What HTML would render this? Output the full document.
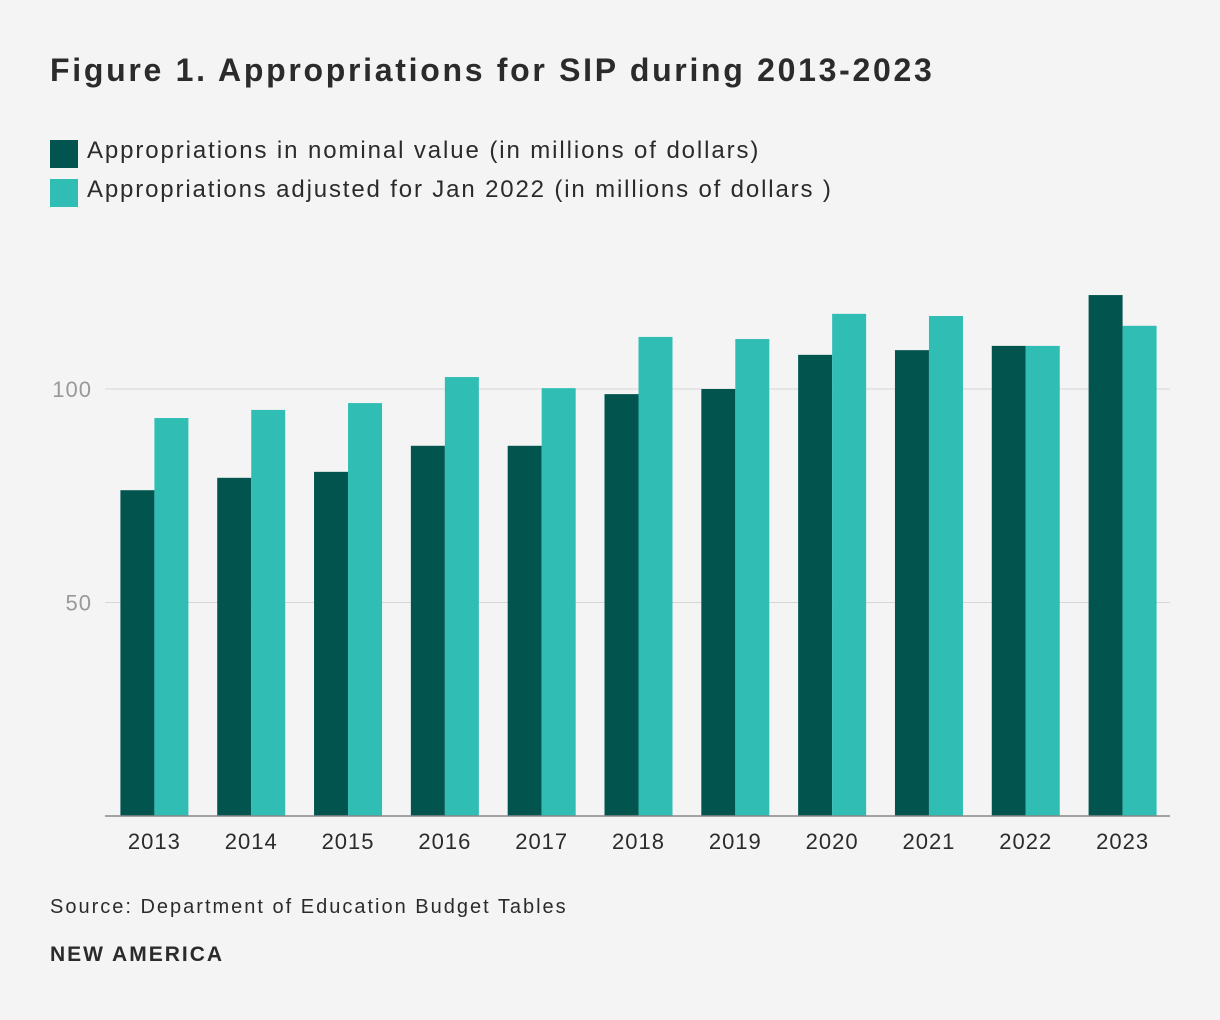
<!DOCTYPE html>
<html><head><meta charset="utf-8"><style>
body{margin:0;width:1220px;height:1020px;background:#f4f4f4;font-family:"Liberation Sans",sans-serif;color:#2b2b2b;position:relative;overflow:hidden}
.t{position:absolute;white-space:nowrap}
.sq{position:absolute;width:28px;height:28px}
</style></head><body>
<div class="t" style="left:50px;top:52px;font-size:32px;font-weight:bold;letter-spacing:2.7px">Figure 1. Appropriations for SIP during 2013-2023</div>
<div class="sq" style="left:50px;top:140px;background:#02544f"></div>
<div class="t" style="left:87px;top:137px;font-size:24px;letter-spacing:1.9px">Appropriations in nominal value (in millions of dollars)</div>
<div class="sq" style="left:50px;top:179px;background:#30bdb3"></div>
<div class="t" style="left:87px;top:176px;font-size:24px;letter-spacing:1.85px">Appropriations adjusted for Jan 2022 (in millions of dollars )</div>
<svg id="chart" width="1220" height="1020" style="position:absolute;left:0;top:0"></svg>
<div class="t" style="left:50px;top:896px;font-size:20px;letter-spacing:2px">Source: Department of Education Budget Tables</div>
<div class="t" style="left:50px;top:943px;font-size:21px;font-weight:bold;letter-spacing:2px">NEW AMERICA</div>
<script>
const years=["2013","2014","2015","2016","2017","2018","2019","2020","2021","2022","2023"];
const nominal=[76.3,79.2,80.6,86.7,86.7,98.8,100,108,109.1,110.1,122];
const adjusted=[93.2,95.1,96.7,102.8,100.2,112.2,111.7,117.6,117.1,110.1,114.8];
const yTicks=[50,100];
const svg=document.getElementById('chart');
const NS='http://www.w3.org/2000/svg';
const x0=105,x1=1170,y0=816,ppu=4.27;
const y=v=>y0-v*ppu;
const gw=(x1-x0)/years.length;
function mk(t,a){const e=document.createElementNS(NS,t);for(const k in a)e.setAttribute(k,a[k]);svg.appendChild(e);return e;}
yTicks.forEach(v=>{
 const l=mk('line',{x1:x0,x2:x1,y1:y(v),y2:y(v),stroke:'#d6d6d6','stroke-width':1});
 
 
 const t=mk('text',{x:92,y:y(v)+8,'text-anchor':'end','font-size':22,fill:'#999','font-family':'Liberation Sans, sans-serif','letter-spacing':'1px'});
 t.textContent=v;
 
 
});
years.forEach((yr,i)=>{
 const c=x0+gw*(i+0.5)+1;
 const b1=mk('rect',{x:c-34,y:y(nominal[i]),width:34,height:nominal[i]*ppu,fill:'#02544f'});
 
 
 const b2=mk('rect',{x:c,y:y(adjusted[i]),width:34,height:adjusted[i]*ppu,fill:'#30bdb3'});
 
 
 const t=mk('text',{x:c,y:y0+33,'text-anchor':'middle','font-size':22,fill:'#2b2b2b','font-family':'Liberation Sans, sans-serif','letter-spacing':'1px'});
 t.textContent=yr;
 
 
});
const ax=mk('line',{x1:x0,x2:x1,y1:y0,y2:y0,stroke:'#888','stroke-width':1.5});


</script>
</body></html>
